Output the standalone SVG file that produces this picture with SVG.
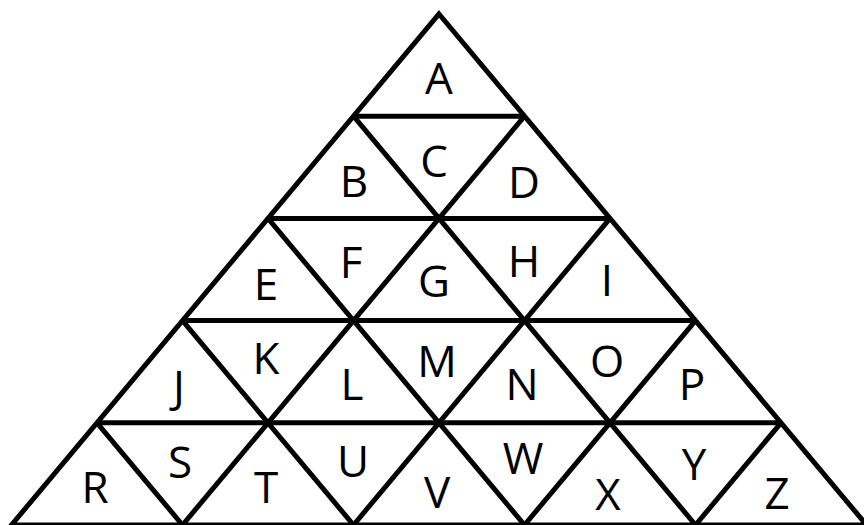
<svg xmlns="http://www.w3.org/2000/svg" width="864" height="525" viewBox="0 0 864 525">
<style>
.ln{stroke:#000;stroke-width:5;fill:none;stroke-linejoin:miter}
.t{font-family:"Open Sans","Liberation Sans",sans-serif;font-size:44px;fill:#000;text-anchor:middle}
</style>
<rect width="864" height="525" fill="#fff"/>
<g id="connectors">
<polygon class="ln" points="439,14 866.5,525 11.5,525"/>
<line class="ln" x1="353.5" y1="116.2" x2="524.5" y2="116.2"/>
<line class="ln" x1="268" y1="218.4" x2="610" y2="218.4"/>
<line class="ln" x1="182.5" y1="320.6" x2="695.5" y2="320.6"/>
<line class="ln" x1="97" y1="422.8" x2="781" y2="422.8"/>
<line class="ln" x1="182.5" y1="525" x2="524.5" y2="116.2"/>
<line class="ln" x1="353.5" y1="525" x2="610" y2="218.4"/>
<line class="ln" x1="524.5" y1="525" x2="695.5" y2="320.6"/>
<line class="ln" x1="695.5" y1="525" x2="781" y2="422.8"/>
<line class="ln" x1="182.5" y1="525" x2="97" y2="422.8"/>
<line class="ln" x1="353.5" y1="525" x2="182.5" y2="320.6"/>
<line class="ln" x1="524.5" y1="525" x2="268" y2="218.4"/>
<line class="ln" x1="695.5" y1="525" x2="353.5" y2="116.2"/>
</g>
<g id="A"><text class="t" x="439" y="94">A</text></g>
<g id="B"><text class="t" x="354" y="197">B</text></g>
<g id="C"><text class="t" x="434" y="177">C</text></g>
<g id="D"><text class="t" x="524" y="198">D</text></g>
<g id="E"><text class="t" x="266" y="300">E</text></g>
<g id="F"><text class="t" x="351" y="278">F</text></g>
<g id="G"><text class="t" x="434" y="297">G</text></g>
<g id="H"><text class="t" x="524" y="277">H</text></g>
<g id="I"><text class="t" x="607" y="296">I</text></g>
<g id="J"><text class="t" x="179" y="402">J</text></g>
<g id="K"><text class="t" x="266" y="374">K</text></g>
<g id="L"><text class="t" x="352" y="400">L</text></g>
<g id="M"><text class="t" x="437" y="377">M</text></g>
<g id="N"><text class="t" x="522" y="400">N</text></g>
<g id="O"><text class="t" x="607" y="377">O</text></g>
<g id="P"><text class="t" x="692" y="400">P</text></g>
<g id="R"><text class="t" x="95" y="503">R</text></g>
<g id="S"><text class="t" x="180" y="478">S</text></g>
<g id="T"><text class="t" x="266" y="503">T</text></g>
<g id="U"><text class="t" x="353" y="477">U</text></g>
<g id="V"><text class="t" x="437" y="508">V</text></g>
<g id="W"><text class="t" x="523" y="474">W</text></g>
<g id="X"><text class="t" x="608" y="510">X</text></g>
<g id="Y"><text class="t" x="694" y="480">Y</text></g>
<g id="Z"><text class="t" x="777" y="509">Z</text></g>
</svg>
